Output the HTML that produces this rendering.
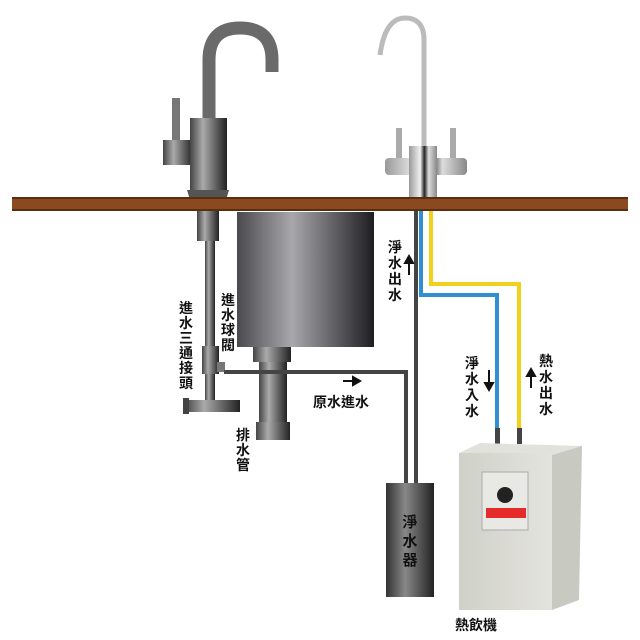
<!DOCTYPE html>
<html><head><meta charset="utf-8"><style>
html,body{margin:0;padding:0;background:#fff;}
svg{display:block}
text{font-family:"Liberation Sans","Noto Sans CJK TC",sans-serif;font-size:14px;fill:#111;font-weight:bold}
</style></head><body>
<svg width="640" height="640" viewBox="0 0 640 640" xmlns="http://www.w3.org/2000/svg">
<defs>
<linearGradient id="mg" x1="0" x2="1" y1="0" y2="0">
<stop offset="0" stop-color="#444"/><stop offset="0.35" stop-color="#aaa"/><stop offset="1" stop-color="#222"/></linearGradient>
<linearGradient id="tk" x1="0" x2="1" y1="0" y2="0">
<stop offset="0" stop-color="#4a4a4e"/><stop offset="0.4" stop-color="#a8a8ac"/><stop offset="1" stop-color="#1e1e22"/></linearGradient>
<linearGradient id="ch" x1="0" x2="1" y1="0" y2="0">
<stop offset="0" stop-color="#999"/><stop offset="0.4" stop-color="#f2f2f2"/><stop offset="0.55" stop-color="#222"/><stop offset="0.7" stop-color="#ddd"/><stop offset="1" stop-color="#888"/></linearGradient>
<linearGradient id="fl" x1="0" x2="1" y1="0" y2="0">
<stop offset="0" stop-color="#333"/><stop offset="0.4" stop-color="#888"/><stop offset="1" stop-color="#222"/></linearGradient>
<linearGradient id="hb" x1="0" x2="1" y1="0" y2="0">
<stop offset="0" stop-color="#cfd0c8"/><stop offset="1" stop-color="#e4e4de"/></linearGradient>
</defs>
<!-- left faucet -->
<path d="M209 120 L209 60 Q209 28 240 28 Q272 28 272 60 L272 72" fill="none" stroke="#6a6a6a" stroke-width="13"/>
<rect x="172" y="98" width="8" height="44" fill="#777"/>
<rect x="163" y="140" width="30" height="25" fill="url(#mg)"/>
<rect x="190" y="118" width="37" height="75" fill="url(#mg)"/>
<path d="M187 190 L229 190 L226 200 L190 200Z" fill="#555"/>
<!-- right faucet -->
<path d="M424 150 L424 40 Q424 18 405 18 Q385 18 380 55" fill="none" stroke="#bbb" stroke-width="5"/>
<rect x="396" y="128" width="6" height="32" fill="#aaa"/>
<rect x="450" y="128" width="6" height="32" fill="#aaa"/>
<rect x="385" y="158" width="82" height="17" rx="4" fill="url(#ch)"/>
<rect x="409" y="146" width="28" height="60" fill="url(#ch)"/>
<!-- counter -->
<rect x="12" y="197" width="616" height="14" fill="#8a4a1e"/>
<rect x="12" y="197" width="616" height="2" fill="#5a2e10"/>
<rect x="12" y="209" width="616" height="2" fill="#5a2e10"/>
<!-- left pipe -->
<rect x="197" y="211" width="22" height="30" fill="url(#mg)"/>
<rect x="205" y="241" width="10" height="165" fill="url(#mg)"/>
<rect x="202" y="346" width="17" height="28" fill="url(#mg)"/>
<rect x="217" y="362" width="8" height="10" fill="#777"/>
<rect x="185" y="400" width="55" height="12" fill="url(#mg)"/>
<rect x="183" y="398" width="6" height="16" fill="#444"/>
<!-- tank -->
<rect x="237" y="212" width="137" height="135" fill="url(#tk)"/>
<rect x="253" y="347" width="38" height="15" fill="url(#mg)"/>
<rect x="259" y="362" width="28" height="60" fill="url(#mg)"/>
<rect x="256" y="422" width="34" height="18" fill="url(#mg)"/>
<!-- raw water line -->
<path d="M224 372 L406 372 L406 486" fill="none" stroke="#444" stroke-width="4"/>
<path d="M416 486 L416 211" fill="none" stroke="#444" stroke-width="4"/>
<!-- blue/yellow -->
<path d="M421 211 L421 295 L497 295 L497 432" fill="none" stroke="#2f8fd0" stroke-width="4"/>
<path d="M431 211 L431 284 L519 284 L519 432" fill="none" stroke="#f0d21a" stroke-width="4"/>
<rect x="495" y="428" width="5" height="16" fill="#444"/>
<rect x="517" y="428" width="5" height="16" fill="#444"/>
<!-- filter -->
<rect x="386" y="483" width="48" height="114" fill="url(#fl)"/>
<text x="410" y="527" text-anchor="middle" style="font-size:15px">淨</text>
<text x="410" y="546" text-anchor="middle" style="font-size:15px">水</text>
<text x="410" y="565" text-anchor="middle" style="font-size:15px">器</text>
<!-- heater -->
<path d="M459 453 L480 443 L582 446 L552 455Z" fill="#e2e2dc"/>
<path d="M552 455 L582 446 L579 600 L552 610Z" fill="#c8c9c0"/>
<rect x="459" y="453" width="93" height="157" fill="url(#hb)"/>
<rect x="482" y="472" width="46" height="58" fill="#e8e8e4" stroke="#aaa" stroke-width="1"/>
<circle cx="505" cy="495" r="8" fill="#222"/>
<rect x="486" y="508" width="40" height="10" fill="#e52a2a"/>
<!-- labels -->
<g>
<text x="395" y="252" text-anchor="middle">淨</text><text x="395" y="268" text-anchor="middle">水</text><text x="395" y="284" text-anchor="middle">出</text><text x="395" y="300" text-anchor="middle">水</text>
<text x="186" y="313" text-anchor="middle">進</text><text x="186" y="328" text-anchor="middle">水</text><text x="186" y="343" text-anchor="middle">三</text><text x="186" y="358" text-anchor="middle">通</text><text x="186" y="373" text-anchor="middle">接</text><text x="186" y="388" text-anchor="middle">頭</text>
<text x="228" y="305" text-anchor="middle">進</text><text x="228" y="320" text-anchor="middle">水</text><text x="228" y="335" text-anchor="middle">球</text><text x="228" y="350" text-anchor="middle">閥</text>
<text x="243" y="440" text-anchor="middle">排</text><text x="243" y="455" text-anchor="middle">水</text><text x="243" y="470" text-anchor="middle">管</text>
<text x="313" y="407">原水進水</text>
<text x="472" y="368" text-anchor="middle">淨</text><text x="472" y="384" text-anchor="middle">水</text><text x="472" y="400" text-anchor="middle">入</text><text x="472" y="416" text-anchor="middle">水</text>
<text x="546" y="366" text-anchor="middle">熱</text><text x="546" y="382" text-anchor="middle">水</text><text x="546" y="398" text-anchor="middle">出</text><text x="546" y="414" text-anchor="middle">水</text>
<text x="455" y="630">熱飲機</text>
</g>
<!-- arrows -->
<g stroke="#111" stroke-width="2" fill="#111">
<line x1="409" y1="275" x2="409" y2="262"/><path d="M405 263 L409 256 L413 263Z"/>
<line x1="489" y1="370" x2="489" y2="384"/><path d="M485 383 L489 390 L493 383Z"/>
<line x1="531" y1="388" x2="531" y2="375"/><path d="M527 376 L531 369 L535 376Z"/>
<line x1="343" y1="381" x2="354" y2="381"/><path d="M353 377 L360 381 L353 385Z"/>
</g>
</svg>
</body></html>
